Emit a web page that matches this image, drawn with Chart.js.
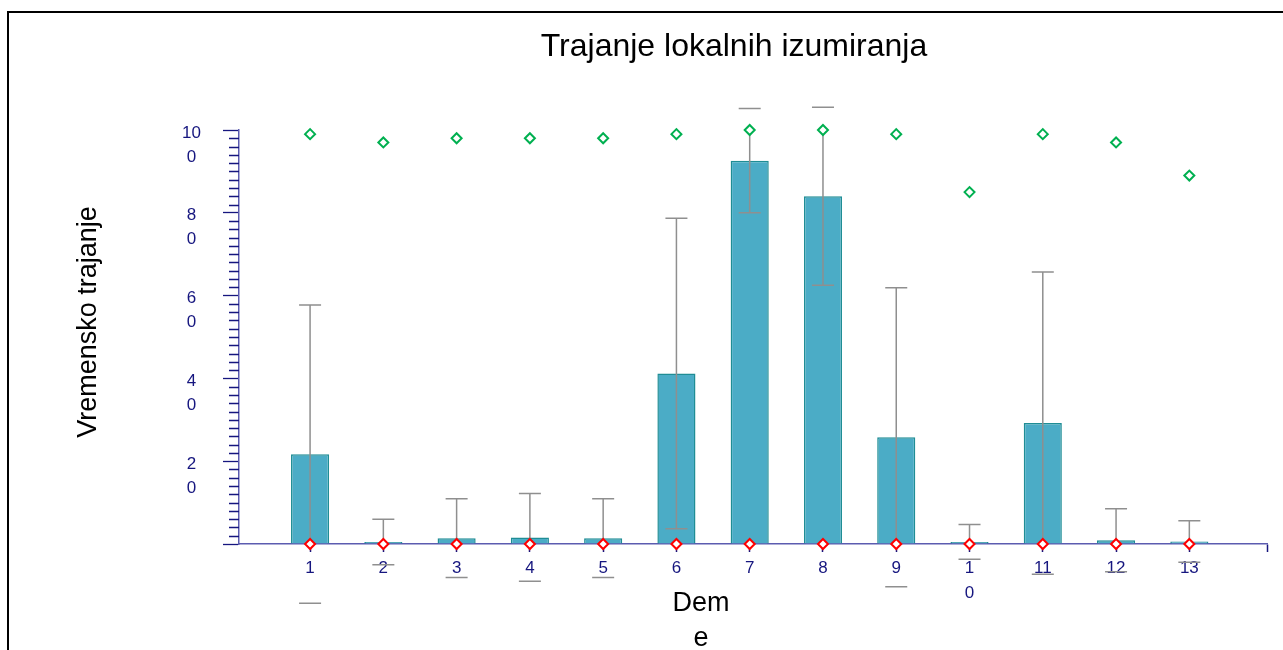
<!DOCTYPE html>
<html>
<head>
<meta charset="utf-8">
<title>Trajanje lokalnih izumiranja</title>
<script src="https://cdn.jsdelivr.net/npm/chart.js@4.4.1/dist/chart.umd.min.js"></script>
<style>
  html, body { margin: 0; padding: 0; background: #fff; }
  canvas { display: block; }
</style>
</head>
<body>
<canvas id="trajanjeChart" width="1283" height="650"></canvas>
<script>
// deme (subpopulations) and duration of local extinctions
const deme = ['1', '2', '3', '4', '5', '6', '7', '8', '9', '10', '11', '12', '13'];
const prosjek = [21.7, 0.5, 1.4, 1.6, 1.4, 41.2, 92.6, 84.0, 25.8, 0.5, 29.2, 0.9, 0.6];
const stdDev = [36.0, 5.5, 9.5, 10.6, 9.5, 37.5, 12.6, 21.5, 36.1, 4.2, 36.5, 7.6, 5.0];
const maksimum = [99, 97, 98, 98, 98, 99, 100, 100, 99, 85, 99, 97, 89];
const minimum = [0, 0, 0, 0, 0, 0, 0, 0, 0, 0, 0, 0, 0];

// tick labels wrap in their narrow boxes, so some are split over two lines
const xTickLabels = ['1', '2', '3', '4', '5', '6', '7', '8', '9', ['1', '0'], '11', '12', '13'];
const yTicks = [0, 20, 40, 60, 80, 100];
const yTickLabels = ['', ['2', '0'], ['4', '0'], ['6', '0'], ['8', '0'], ['10', '0']];

const FONT = '"Liberation Sans", Arial, sans-serif';
const navy = '#16167f';
const axisColor = '#5c5cb0';

const xStart = 0.03;
const xEnd = 14.06;

// mean +/- SD whiskers; the stem stays inside the plot, the caps do not
const errorBars = {
  id: 'errorBars',
  afterDatasetDraw(chart, args) {
    if (args.index !== 0) return;
    const { ctx, chartArea } = chart;
    const y = chart.scales.y;
    ctx.save();
    ctx.strokeStyle = '#8f8f8f';
    ctx.lineWidth = 1.5;
    args.meta.data.forEach((bar, i) => {
      const hi = y.getPixelForValue(prosjek[i] + stdDev[i]);
      const lo = y.getPixelForValue(prosjek[i] - stdDev[i]);
      const x = bar.x;
      ctx.beginPath();
      ctx.moveTo(x, Math.max(hi, chartArea.top));
      ctx.lineTo(x, Math.min(lo, chartArea.bottom));
      ctx.moveTo(x - 11, hi);
      ctx.lineTo(x + 11, hi);
      ctx.moveTo(x - 11, lo);
      ctx.lineTo(x + 11, lo);
      ctx.stroke();
    });
    ctx.restore();
  }
};

// minor ticks on the y axis every 2 units
const minorTicks = {
  id: 'minorTicks',
  afterDraw(chart) {
    const { ctx, chartArea } = chart;
    const y = chart.scales.y;
    ctx.save();
    ctx.strokeStyle = navy;
    ctx.lineWidth = 1.3;
    ctx.beginPath();
    for (let v = 0; v <= 100; v += 2) {
      if (v % 20 === 0) continue;
      const py = Math.round(y.getPixelForValue(v)) + 0.5;
      ctx.moveTo(chartArea.left - 10, py);
      ctx.lineTo(chartArea.left, py);
    }
    ctx.stroke();
    ctx.restore();
  }
};

// outer frame, chart title and axis titles
const naslovi = {
  id: 'naslovi',
  beforeDraw(chart) {
    const { ctx, width, height } = chart;
    ctx.save();
    ctx.fillStyle = '#fff';
    ctx.fillRect(0, 0, width, height);
    ctx.strokeStyle = '#000';
    ctx.lineWidth = 2;
    ctx.beginPath();
    ctx.moveTo(8, height);
    ctx.lineTo(8, 12);
    ctx.lineTo(width, 12);
    ctx.stroke();
    ctx.restore();
  },
  afterDraw(chart) {
    const { ctx } = chart;
    ctx.save();
    ctx.fillStyle = '#000';
    ctx.textAlign = 'center';
    ctx.textBaseline = 'alphabetic';

    ctx.font = '32px ' + FONT;
    ctx.fillText('Trajanje lokalnih izumiranja', 734, 56);

    ctx.font = '27px ' + FONT;
    ctx.fillText('Dem', 701, 611);
    ctx.fillText('e', 701, 646);

    ctx.translate(96, 322);
    ctx.rotate(-Math.PI / 2);
    ctx.fillText('Vremensko trajanje', 0, 0);
    ctx.restore();
  }
};

const ctx = document.getElementById('trajanjeChart').getContext('2d');
const trajanjeChart = new Chart(ctx, {
  type: 'bar',
  data: {
    datasets: [{
      type: 'bar',
      label: 'Prosjek',
      data: deme.map((d, i) => ({ x: i + 1, y: prosjek[i] })),
      backgroundColor: '#4bacc6',
      borderColor: '#1f8d95',
      borderWidth: 1.5,
      barPercentage: 0.52,
      categoryPercentage: 1,
      order: 2
    }, {
      type: 'scatter',
      label: 'Maksimum',
      data: deme.map((d, i) => ({ x: i + 1, y: maksimum[i] })),
      pointStyle: 'rectRot',
      pointRadius: 5,
      borderColor: '#00b050',
      backgroundColor: '#fff',
      borderWidth: 2,
      clip: false,
      order: 1
    }, {
      type: 'scatter',
      label: 'Minimum',
      data: deme.map((d, i) => ({ x: i + 1, y: minimum[i] })),
      pointStyle: 'rectRot',
      pointRadius: 5,
      borderColor: '#ff0000',
      backgroundColor: '#fff',
      borderWidth: 2,
      clip: false,
      order: 0
    }]
  },
  options: {
    responsive: false,
    animation: false,
    layout: {
      autoPadding: false,
      padding: { left: 139, right: 16, top: 130, bottom: 46 }
    },
    plugins: {
      legend: { display: false },
      title: { display: false },
      tooltip: { enabled: false }
    },
    scales: {
      x: {
        type: 'linear',
        min: xStart,
        max: xEnd,
        offset: false,
        afterBuildTicks: s => {
          s.ticks = deme.map((d, i) => ({ value: i + 1 })).concat([{ value: xEnd }]);
        },
        afterFit: s => {
          s.height = 60;
          s.paddingLeft = 0;
          s.paddingRight = 0;
        },
        grid: { offset: false, drawOnChartArea: false, drawTicks: true, tickLength: 8, tickColor: navy, tickWidth: 1.5 },
        border: { color: axisColor, width: 1.5 },
        ticks: {
          autoSkip: false,
          maxRotation: 0,
          color: navy,
          padding: 4,
          font: { family: FONT, size: 17, lineHeight: '25px' },
          callback: (v, i) => xTickLabels[i] ?? ''
        }
      },
      y: {
        min: 0,
        max: 100,
        afterBuildTicks: s => {
          s.ticks = yTicks.map(v => ({ value: v }));
        },
        afterFit: s => {
          s.width = 100;
          s.paddingTop = 0;
          s.paddingBottom = 0;
        },
        grid: { drawOnChartArea: false, drawTicks: true, tickLength: 16, tickColor: navy, tickWidth: 1.3 },
        border: { color: axisColor, width: 1.5 },
        ticks: {
          color: navy,
          padding: 22,
          crossAlign: 'center',
          labelOffset: 15,
          font: { family: FONT, size: 17, lineHeight: '24px' },
          callback: (v, i) => yTickLabels[i]
        }
      }
    }
  },
  plugins: [errorBars, minorTicks, naslovi]
});
</script>
</body>
</html>
